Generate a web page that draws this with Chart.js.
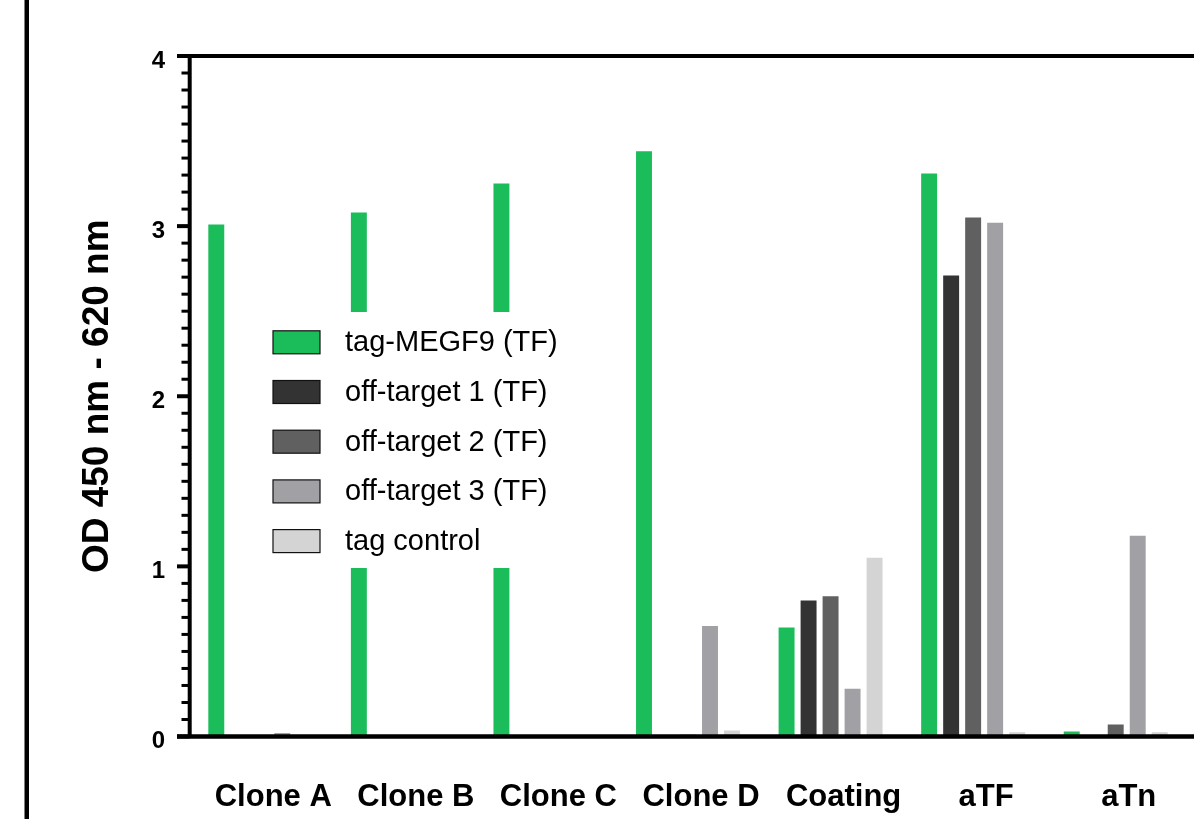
<!DOCTYPE html>
<html>
<head>
<meta charset="utf-8">
<title>OD 450 nm - 620 nm</title>
<script src="https://cdn.jsdelivr.net/npm/chart.js@4/dist/chart.umd.min.js"></script>
<style>
  html, body { margin: 0; padding: 0; background: #ffffff; }
  canvas { display: block; }
</style>
</head>
<body>
<canvas id="chart" width="1194" height="819"></canvas>
<script>
// Categories on the x axis
const categories = ['Clone A', 'Clone B', 'Clone C', 'Clone D', 'Coating', 'aTF', 'aTn'];

// Series names
const seriesLabels = ['tag-MEGF9 (TF)', 'off-target 1 (TF)', 'off-target 2 (TF)', 'off-target 3 (TF)', 'tag control'];

// OD values per series, one per category
const tagMEGF9   = [3.01, 3.08, 3.25, 3.44, 0.64, 3.31, 0.03];
const offTarget1 = [0, 0, 0, 0, 0.80, 2.71, 0];
const offTarget2 = [0, 0, 0, 0.01, 0.825, 3.05, 0.07];
const offTarget3 = [0.02, 0, 0, 0.65, 0.28, 3.02, 1.18];
const tagControl = [0, 0, 0, 0.035, 1.05, 0.025, 0.025];

// Y axis tick values
const majorTicks = [0, 1, 2, 3, 4];

const seriesColors = ['#1bbd5b', '#333333', '#606060', '#a1a0a4', '#d4d4d4'];
const FONT = '"Liberation Sans", Arial, Helvetica, sans-serif';

const seriesValues = [tagMEGF9, offTarget1, offTarget2, offTarget3, tagControl];

// Axis frame, minor ticks, outer rule and in-plot legend
const framePlugin = {
  id: 'frame',
  beforeDraw(chart) {
    const ctx = chart.ctx;
    ctx.save();
    ctx.fillStyle = '#ffffff';
    ctx.fillRect(0, 0, chart.width, chart.height);
    ctx.fillStyle = '#000000';
    ctx.fillRect(24.5, 0, 4.5, chart.height);
    ctx.restore();
  },
  afterDatasetsDraw(chart) {
    const ctx = chart.ctx;
    const y = chart.scales.y;
    const area = chart.chartArea;
    const yTop = y.getPixelForValue(4);
    const yZero = y.getPixelForValue(0);
    const axisX = area.left + 0.7;
    ctx.save();

    // legend, drawn over the bars on a white panel
    ctx.fillStyle = '#ffffff';
    ctx.fillRect(262, 312, 330, 256);
    const rowY0 = 342.3, rowStep = 49.7;
    chart.data.datasets.forEach((ds, i) => {
      const cy = rowY0 + i * rowStep;
      ctx.fillStyle = ds.backgroundColor;
      ctx.fillRect(273, cy - 11.5, 47, 23);
      ctx.strokeStyle = '#111111';
      ctx.lineWidth = 1.2;
      ctx.strokeRect(273, cy - 11.5, 47, 23);
      ctx.fillStyle = '#000000';
      ctx.font = '29px ' + FONT;
      ctx.textAlign = 'left';
      ctx.textBaseline = 'middle';
      ctx.fillText(ds.label, 345, cy + 1);
    });

    // axis lines
    ctx.strokeStyle = '#000000';
    ctx.lineWidth = 4;
    ctx.beginPath();
    ctx.moveTo(axisX, yTop);
    ctx.lineTo(axisX, yZero);
    ctx.stroke();
    ctx.beginPath();
    ctx.moveTo(177, yTop);
    ctx.lineTo(chart.width, yTop);
    ctx.stroke();
    ctx.lineWidth = 4.5;
    ctx.beginPath();
    ctx.moveTo(177, yZero);
    ctx.lineTo(chart.width, yZero);
    ctx.stroke();

    // minor ticks every 0.1
    ctx.lineWidth = 3;
    for (let k = 1; k < 40; k++) {
      if (k % 10 === 0) continue;
      const py = y.getPixelForValue(k / 10);
      ctx.beginPath();
      ctx.moveTo(181.5, py);
      ctx.lineTo(axisX, py);
      ctx.stroke();
    }
    // major ticks
    ctx.lineWidth = 4;
    majorTicks.forEach(v => {
      const py = y.getPixelForValue(v);
      ctx.beginPath();
      ctx.moveTo(177, py);
      ctx.lineTo(axisX, py);
      ctx.stroke();
    });
    ctx.restore();
  }
};

new Chart(document.getElementById('chart'), {
  type: 'bar',
  data: {
    labels: categories,
    datasets: seriesLabels.map((label, i) => ({
      label: label,
      data: seriesValues[i],
      backgroundColor: seriesColors[i],
      borderWidth: 0,
      categoryPercentage: 0.7715,
      barPercentage: 0.725
    }))
  },
  options: {
    responsive: false,
    animation: false,
    devicePixelRatio: 1,
    layout: { padding: { top: 56, right: 7, bottom: 0, left: 0 } },
    plugins: {
      legend: { display: false },
      tooltip: { enabled: false }
    },
    scales: {
      x: {
        offset: true,
        grid: { display: false, drawTicks: false },
        border: { display: false },
        ticks: {
          color: '#000000',
          font: { family: FONT, size: 31, weight: 'bold' },
          padding: 42,
          labelOffset: 13,
          maxRotation: 0,
          autoSkip: false
        },
        afterFit(scale) { scale.height = 82.5; }
      },
      y: {
        min: 0,
        max: 4,
        ticks: {
          stepSize: 1,
          color: '#000000',
          font: { family: FONT, size: 24, weight: 'bold' },
          padding: 13,
          labelOffset: 5
        },
        grid: { display: true, drawOnChartArea: false, drawTicks: true, tickLength: 11, tickWidth: 0, tickColor: 'rgba(0,0,0,0)' },
        border: { display: false },
        title: {
          display: true,
          text: 'OD 450 nm - 620 nm',
          color: '#000000',
          font: { family: FONT, size: 37, weight: 'bold' },
          padding: { top: 76, bottom: 0 }
        },
        afterFit(scale) { scale.width = 189; }
      }
    }
  },
  plugins: [framePlugin]
});
</script>
</body>
</html>
